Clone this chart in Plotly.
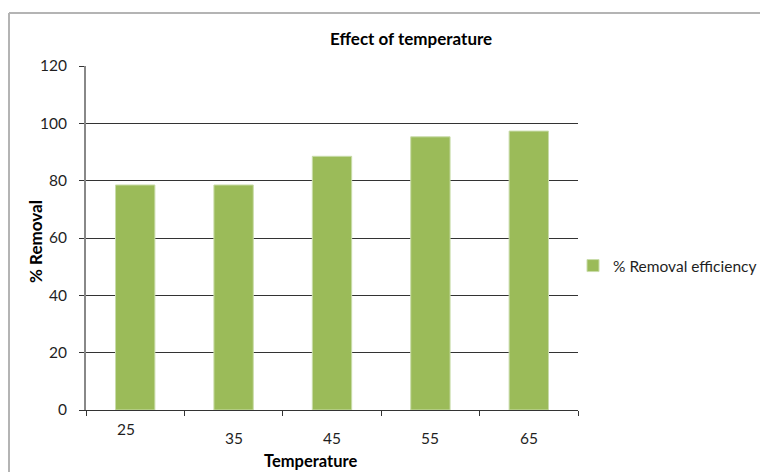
import plotly.graph_objects as go

# Data
temperatures = ["25", "35", "45", "55", "65"]
removal_efficiency = [78.5, 78.5, 88.5, 95.3, 97.3]
y_ticks = [0, 20, 40, 60, 80, 100, 120]

series_name = "% Removal efficiency"
chart_title = "Effect of temperature"
x_title = "Temperature"
y_title = "% Removal"

# Layout geometry (pixels)
W, H = 760, 472
PL, PR, PT, PB = 86, 578, 66, 410

def px_x(px):
    return (px - PL) / (PR - PL)

def px_y(py):
    return (PB - py) / (PB - PT)

FONT = "Lato, 'Open Sans', sans-serif"
BAR_COLOR = "#9BBB59"
TEXT = "#1f1f1f"

fig = go.Figure()
fig.add_trace(go.Bar(
    x=temperatures,
    y=removal_efficiency,
    name=series_name,
    marker=dict(color=BAR_COLOR, line=dict(color="#c9dcaa", width=1)),
    width=0.4,
    showlegend=True,
))

# category tick labels, first one sits a little higher/left
label_dx = [-9, 0, 0, 0, 0]
label_dy = [9, 0, 0, 0, 0]
annotations = []
for i, (cat, dx, dy) in enumerate(zip(temperatures, label_dx, label_dy)):
    annotations.append(dict(
        x=i, xref="x", y=px_y(438), yref="paper",
        text=cat, showarrow=False, xanchor="center", yanchor="middle",
        xshift=dx, yshift=dy, font=dict(family=FONT, size=15.5, color=TEXT),
    ))

annotations += [
    dict(x=px_x(411), y=px_y(38), xref="paper", yref="paper", text="<b>" + chart_title + "</b>",
         showarrow=False, xanchor="center", yanchor="middle",
         font=dict(family=FONT, size=17, color="#000")),
    dict(x=px_x(310), y=px_y(461), xref="paper", yref="paper", text="<b>" + x_title + "</b>",
         showarrow=False, xanchor="center", yanchor="middle",
         font=dict(family=FONT, size=16.5, color="#000")),
    dict(x=px_x(35), y=px_y(242), xref="paper", yref="paper", text="<b>" + y_title + "</b>",
         showarrow=False, xanchor="center", yanchor="middle", textangle=-90,
         font=dict(family=FONT, size=17, color="#000")),
]

shapes = [
    # chart-area frame (top and left edges)
    dict(type="line", xref="paper", yref="paper",
         x0=px_x(9), x1=px_x(W + 5), y0=px_y(13), y1=px_y(13),
         line=dict(color="#b4b4b4", width=2)),
    dict(type="line", xref="paper", yref="paper",
         x0=px_x(9), x1=px_x(9), y0=px_y(13), y1=px_y(H + 5),
         line=dict(color="#b4b4b4", width=2)),
]

fig.update_layout(
    width=W, height=H,
    margin=dict(l=PL, r=W - PR, t=PT, b=H - PB, pad=0, autoexpand=False),
    paper_bgcolor="white", plot_bgcolor="white",
    font=dict(family=FONT, size=15.5, color=TEXT),
    bargap=0.6,
    xaxis=dict(
        type="category", range=[-0.5, 4.5],
        showticklabels=False,
        showline=True, linecolor="#333333", linewidth=1.2,
        ticks="outside", tickson="boundaries", ticklen=5, tickcolor="#333333", tickwidth=1.2,
        showgrid=False, zeroline=False,
    ),
    yaxis=dict(
        range=[0, 120], tickvals=y_ticks,
        showline=True, linecolor="#888888", linewidth=2,
        ticks="outside", ticklen=5, tickcolor="#333333", tickwidth=1.2,
        showgrid=True, gridcolor="#333333", gridwidth=1.2,
        zeroline=False, ticklabelstandoff=9,
        tickfont=dict(family=FONT, size=15.5, color=TEXT),
    ),
    legend=dict(
        x=px_x(573), y=px_y(266), xanchor="left", yanchor="middle",
        xref="paper", yref="paper",
        font=dict(family=FONT, size=15.5, color=TEXT),
        bgcolor="rgba(0,0,0,0)", itemwidth=30, tracegroupgap=0,
    ),
    annotations=annotations,
    shapes=shapes,
)

fig.write_html("out.html")
